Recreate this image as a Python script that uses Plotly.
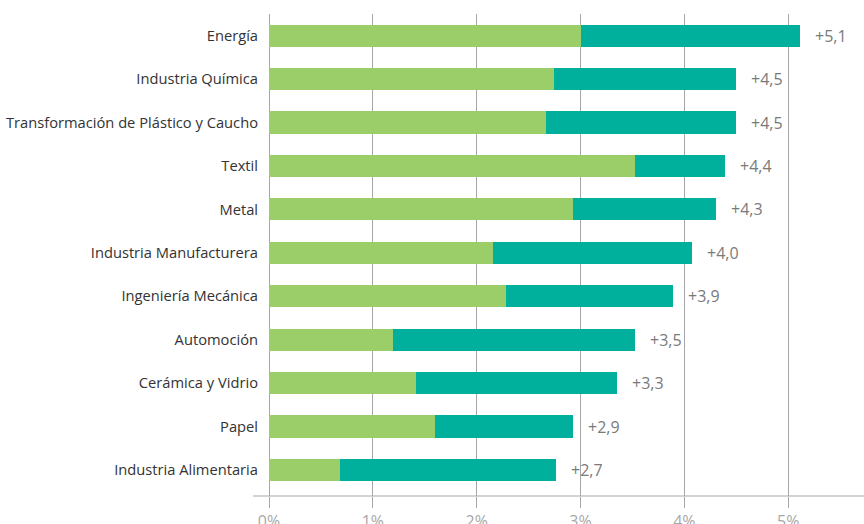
import plotly.graph_objects as go

categories = ["Energía", "Industria Química", "Transformación de Plástico y Caucho", "Textil",
              "Metal", "Industria Manufacturera", "Ingeniería Mecánica", "Automoción",
              "Cerámica y Vidrio", "Papel", "Industria Alimentaria"]
base_values = [3.00, 2.74, 2.67, 3.52, 2.93, 2.16, 2.28, 1.19, 1.42, 1.60, 0.68]
extra_values = [2.11, 1.76, 1.83, 0.87, 1.37, 1.91, 1.61, 2.33, 1.93, 1.33, 2.08]
total_labels = ["+5,1", "+4,5", "+4,5", "+4,4", "+4,3", "+4,0", "+3,9", "+3,5", "+3,3", "+2,9", "+2,7"]
x_ticks = [0, 1, 2, 3, 4, 5]
x_tick_labels = ["0%", "1%", "2%", "3%", "4%", "5%"]

GREEN = "#9BCE68"
TEAL = "#00AF9C"
GRID = "#A6A6A6"
FONT = "Open Sans"

fig = go.Figure()
fig.add_trace(go.Bar(y=categories, x=base_values, orientation="h", marker=dict(color=GREEN, line=dict(width=0)),
                     width=0.51, hoverinfo="skip"))
fig.add_trace(go.Bar(y=categories, x=extra_values, orientation="h", marker=dict(color=TEAL, line=dict(width=0)),
                     width=0.51, hoverinfo="skip"))

for cat, b, e, lab in zip(categories, base_values, extra_values, total_labels):
    fig.add_annotation(x=b + e, y=cat, text=lab, showarrow=False, xanchor="left", xshift=13,
                       font=dict(family=FONT, size=16, color="#7A7A7A"))

# bottom axis line extending slightly left of zero
fig.add_shape(type="line", xref="paper", yref="paper", x0=-0.027, x1=1, y0=0, y1=0,
              line=dict(color=GRID, width=1))

fig.update_layout(
    width=864, height=524,
    barmode="stack",
    showlegend=False,
    plot_bgcolor="white", paper_bgcolor="white",
    margin=dict(l=269, r=0, t=14, b=28),
    font=dict(family=FONT, size=14, color="#333333"),
    xaxis=dict(range=[0, 5.73], tickvals=x_ticks, ticktext=x_tick_labels,
               showgrid=True, gridcolor=GRID, gridwidth=1,
               zeroline=True, zerolinecolor=GRID, zerolinewidth=1,
               showline=False, ticks="outside", ticklen=11, tickcolor=GRID, tickwidth=1,
               tickfont=dict(family=FONT, size=16, color="#A8A8A8"), fixedrange=True,
               automargin=False),
    yaxis=dict(categoryorder="array", categoryarray=categories, autorange=False,
               range=[10.6, -0.5], showgrid=False, zeroline=False, showline=False,
               ticks="", ticklabelstandoff=10, automargin=False,
               tickfont=dict(family=FONT, size=14.7, color="#333333"), fixedrange=True),
)

fig.write_html("out.html", config={"displayModeBar": False},
               post_script="document.body.style.margin='0';document.body.style.padding='0';")
